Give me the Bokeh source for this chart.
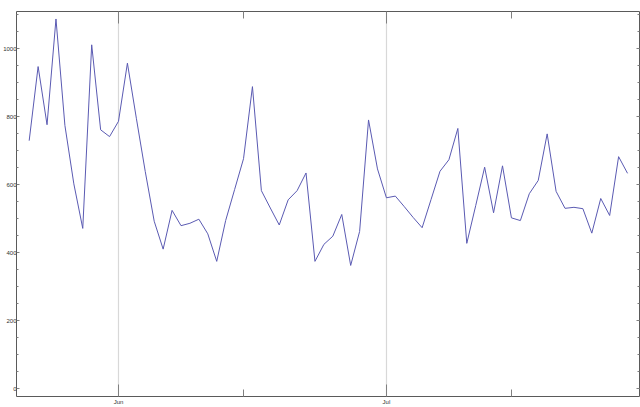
import pandas as pd
from bokeh.plotting import figure
from bokeh.models import (Range1d, FixedTicker, LinearAxis, DatetimeAxis,
                          SingleIntervalTicker, CustomJSTickFormatter)
from bokeh.embed import file_html
from bokeh.resources import INLINE

# ---- data ----
start_date = "2012-05-22"
values = [729, 947, 776, 1087, 774, 602, 471, 1011, 761, 741,
          786, 957, 795, 638, 492, 410, 524, 479, 486, 498,
          455, 374, 494, 585, 676, 888, 582, 531, 481, 555,
          582, 634, 374, 424, 448, 512, 362, 462, 790, 646,
          561, 566, 535, 503, 473, 556, 639, 673, 765, 427,
          538, 651, 517, 655, 502, 494, 573, 612, 749, 580,
          530, 533, 529, 457, 559, 509, 682, 633]
major_tick_dates = ["2012-06-01", "2012-07-01"]
major_tick_labels = ["Jun", "Jul"]
minor_tick_dates = ["2012-06-15", "2012-07-15"]
y_tick_interval = 200

dates = pd.date_range(start_date, periods=len(values), freq="D")

def ms(d):
    return pd.Timestamp(d).value // 10**6

major_ms = [ms(d) for d in major_tick_dates]
minor_ms = [ms(d) for d in minor_tick_dates]

x_start = dates[0] - pd.Timedelta(days=1.42)
x_end = dates[-1] + pd.Timedelta(days=1.34)

p = figure(width=640, height=407, x_axis_type="datetime",
           output_backend="svg", toolbar_location=None,
           x_range=Range1d(x_start, x_end), y_range=Range1d(-23.5, 1109),
           min_border_left=16, min_border_right=1, min_border_top=11,
           min_border_bottom=11)
p.outline_line_color = None
p.background_fill_color = "white"
p.border_fill_color = "white"

xticker = FixedTicker(ticks=major_ms, minor_ticks=minor_ms)
yticker = SingleIntervalTicker(interval=y_tick_interval, num_minor_ticks=4)

font = "Liberation Sans"
axis_color = "#5a5a5a"
tick_color = "#808080"

xa = p.xaxis[0]
xa.ticker = xticker
xa.major_label_overrides = {m: l for m, l in zip(major_ms, major_tick_labels)}
ya = p.yaxis[0]
ya.ticker = yticker

top = DatetimeAxis(ticker=xticker, formatter=CustomJSTickFormatter(code="return ''"))
right = LinearAxis(ticker=yticker, formatter=CustomJSTickFormatter(code="return ''"))
p.add_layout(top, "above")
p.add_layout(right, "right")

for ax in (xa, top):
    ax.major_tick_in = 12
    ax.major_tick_out = 0
    ax.minor_tick_in = 7
    ax.minor_tick_out = 0
for ax in (ya, right):
    ax.major_tick_in = 3
    ax.major_tick_out = 0
    ax.minor_tick_in = 2
    ax.minor_tick_out = 0
for ax in (xa, ya, top, right):
    ax.axis_line_color = axis_color
    ax.axis_line_width = 1
    ax.major_tick_line_color = tick_color
    ax.minor_tick_line_color = tick_color
    ax.major_label_text_font = font
    ax.major_label_text_font_size = "6px"
    ax.major_label_text_color = "#333333"
xa.major_label_standoff = 2
ya.major_label_standoff = 0
top.major_label_standoff = 0
right.major_label_standoff = 0

p.xgrid.ticker = xticker
p.xgrid.grid_line_color = "#d8d8d8"
p.xgrid.grid_line_width = 1.2
p.ygrid.grid_line_color = None

p.line(dates, values, line_color="#5a5ab2", line_width=1)

open("out.html", "w").write(file_html(p, INLINE))
